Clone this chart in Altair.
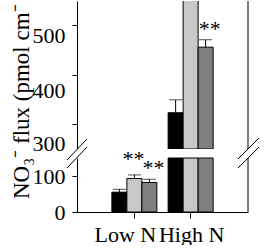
import altair as alt
import pandas as pd

# ---- data ----
groups = ["Low N", "High N"]
treatments = ["Control", "Treatment 1", "Treatment 2"]
bar_colors = ["#000000", "#c8c8c8", "#808080"]
low_means = [55, 93, 82]
low_errs = [8, 10, 9]
high_means = [323, 650, 455]
high_errs = [26, 25, 15]
low_marks = ["", "**", "**"]
high_marks = ["", "", "**"]
y_title = "NO\u2083\u207b flux (pmol cm\u207b\u00b2 s\u207b\u00b9)"
upper_ticks = [300, 400, 500]
lower_ticks = [0, 100]
upper_domain = [250, 548]
lower_domain = [0, 150]

rows = []
for g, means, errs, marks in [("Low N", low_means, low_errs, low_marks),
                              ("High N", high_means, high_errs, high_marks)]:
    for t, m, e, s in zip(treatments, means, errs, marks):
        rows.append({"group": g, "treat": t, "mean": m, "upper": m + e, "star": s})
df = pd.DataFrame(rows)

W = 171
H_UP = 148
H_LO = 54
FONT = "Liberation Serif"
one = pd.DataFrame({"a": [0]})

x_scale = alt.Scale(domain=groups, paddingInner=0.2, paddingOuter=0.62)
xo = alt.XOffset("treat:N", sort=treatments,
                 scale=alt.Scale(domain=treatments, paddingInner=0, paddingOuter=0))
col = alt.Color("treat:N", scale=alt.Scale(domain=treatments, range=bar_colors), legend=None)

up_scale = alt.Scale(domain=upper_domain, nice=False, zero=False)
lo_scale = alt.Scale(domain=lower_domain, nice=False, zero=False)

def yaxis(vals, offset):
    return alt.Axis(values=vals, title=None, tickSize=5, labelPadding=7, grid=False,
                    labelFont=FONT, labelFontSize=22, labelColor="black",
                    domainColor="black", tickColor="black", labelOffset=offset)

def seg(x1, y1, x2, y2, opacity=1):
    return alt.Chart(one).mark_rule(color="black", strokeWidth=1, strokeOpacity=opacity).encode(
        x=alt.value(x1), y=alt.value(y1), x2=alt.value(x2), y2=alt.value(y2))

def star_layers(base, x, yscale):
    s = base.transform_filter("datum.star != ''")
    mid = s.transform_filter(alt.datum.treat == treatments[1]).mark_text(
        font=FONT, fontSize=22, baseline="alphabetic", dy=-9, dx=-1).encode(
        x=x, xOffset=xo, y=alt.Y("upper:Q", scale=yscale), text="star:N")
    other = s.transform_filter(alt.datum.treat != treatments[1]).mark_text(
        font=FONT, fontSize=22, baseline="alphabetic", dy=-4, dx=4).encode(
        x=x, xOffset=xo, y=alt.Y("upper:Q", scale=yscale), text="star:N")
    return [mid, other]

# ---- upper panel (broken axis top part) ----
xu = alt.X("group:N", sort=groups, scale=x_scale, axis=None)
up_bars = alt.Chart(df).transform_filter("datum.mean > 250").mark_bar(
    stroke="black", strokeWidth=1, clip=True).encode(
    x=xu, xOffset=xo,
    y=alt.Y("mean:Q", scale=up_scale,
            axis=yaxis(upper_ticks, {"condition": [{"test": "datum.value == 500", "value": 11},
                                                   {"test": "datum.value == 400", "value": 16}],
                                     "value": 19})),
    y2=alt.datum(250), color=col)
up_err = alt.Chart(df).transform_filter("datum.mean > 250 && datum.upper < 548")
up_rule = up_err.mark_rule(color="black").encode(x=xu, xOffset=xo, y=alt.Y("mean:Q", scale=up_scale), y2="upper:Q")
up_cap = up_err.mark_tick(color="black", thickness=1, size=13, orient="horizontal").encode(
    x=xu, xOffset=xo, y=alt.Y("upper:Q", scale=up_scale))
title_txt = alt.Chart(pd.DataFrame({"t": [y_title]})).mark_text(
    angle=270, align="left", baseline="alphabetic", font=FONT, fontSize=23,
    limit=196, ellipsis="\u200b").encode(text="t:N", x=alt.value(-48), y=alt.value(198))

upper = alt.layer(
    up_bars, up_rule, up_cap, *star_layers(up_err, xu, up_scale), title_txt,
    seg(W, 0, W, H_UP),
    seg(-10, 159, 10, 138), seg(-10, 167, 10, 146),
    seg(161, 158, 182, 137), seg(161, 167, 182, 146),
    seg(-77, 60, -77, 61, opacity=0),
).properties(width=W, height=H_UP)

# ---- lower panel ----
xl = alt.X("group:N", sort=groups, scale=x_scale,
           axis=alt.Axis(title=None, labelAngle=0, tickSize=6, labelPadding=6,
                         labelFont=FONT, labelFontSize=22, labelColor="black",
                         domainColor="black", tickColor="black",
                         labelOffset={"condition": {"test": "datum.value == 'Low N'", "value": -9},
                                      "value": 1}))
lo_base = alt.Chart(df).transform_calculate(mlow="min(datum.mean, 150)")
lo_bars = lo_base.mark_bar(stroke="black", strokeWidth=1).encode(
    x=xl, xOffset=xo,
    y=alt.Y("mlow:Q", scale=lo_scale, axis=yaxis(lower_ticks, 0)),
    y2=alt.datum(0), color=col)
lo_err = alt.Chart(df).transform_filter("datum.upper <= 150")
lo_rule = lo_err.mark_rule(color="black").encode(x=xl, xOffset=xo, y=alt.Y("mean:Q", scale=lo_scale), y2="upper:Q")
lo_cap = lo_err.mark_tick(color="black", thickness=1, size=13, orient="horizontal").encode(
    x=xl, xOffset=xo, y=alt.Y("upper:Q", scale=lo_scale))

lower = alt.layer(lo_bars, lo_rule, lo_cap, *star_layers(lo_err, xl, lo_scale),
                  seg(W, 0, W, H_LO)).properties(width=W, height=H_LO)

chart = alt.vconcat(upper, lower, spacing=9, bounds="flush").properties(
    padding=0, background="white"
).configure_view(stroke=None).configure_axis(
    labelFont=FONT, labelFontSize=22, labelColor="black", domainColor="black",
    tickColor="black", domainWidth=1, tickWidth=1, grid=False
)

chart.save("out.html", embed_options={"renderer": "svg", "actions": False})
